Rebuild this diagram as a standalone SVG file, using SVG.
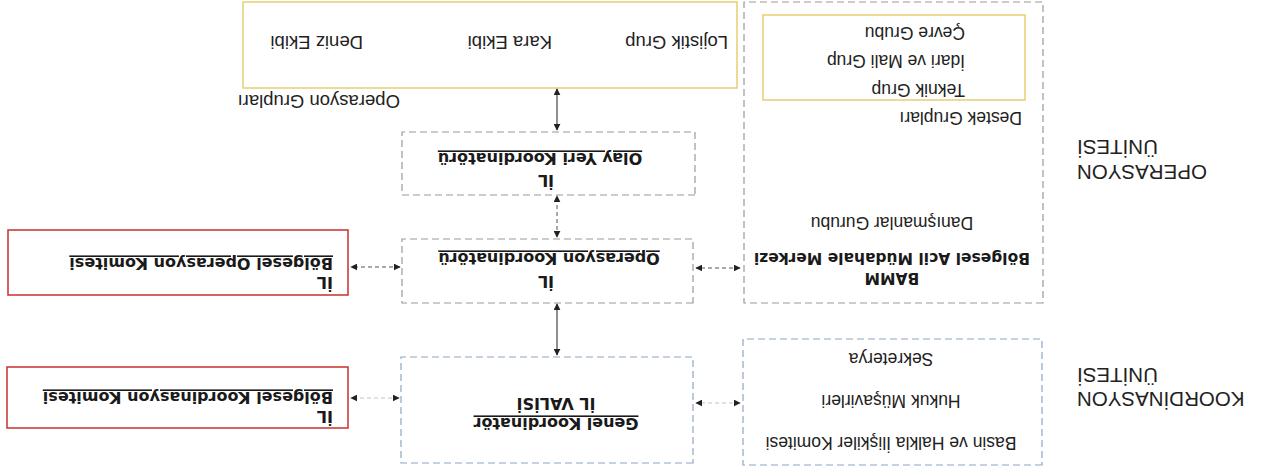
<svg xmlns="http://www.w3.org/2000/svg" width="1286" height="475" viewBox="0 0 1286 475">
<defs>
<marker id="ah" viewBox="0 0 10 10" refX="9" refY="5" markerWidth="7" markerHeight="7" orient="auto-start-reverse" markerUnits="userSpaceOnUse">
<path d="M0,0 L10,5 L0,10 z" fill="#222"/>
</marker>
<style>
.gbox{fill:#fff;stroke:#9a9a9a;stroke-width:1.2;stroke-dasharray:7 4}
.bbox{fill:#fff;stroke:#8ea6c4;stroke-width:1.2;stroke-dasharray:7 4}
.rbox{fill:#fff;stroke:#cc3b3b;stroke-width:1.6}
.ybox{fill:#fff;stroke:#e6cf72;stroke-width:1.5}
.t{font-family:"Liberation Sans",Arial,sans-serif;font-size:17.5px;fill:#222}
.tl{font-family:"Liberation Sans",Arial,sans-serif;font-size:18.5px;fill:#222}
.b{font-family:"DejaVu Sans",Verdana,sans-serif;font-weight:bold;font-size:16px;fill:#1a1a1a}
.u{text-decoration:underline}
.big{font-family:"Liberation Sans",Arial,sans-serif;font-size:20.5px;fill:#222}
.c{text-anchor:middle}
.sv{stroke:#333;stroke-width:1.1;fill:none}
.sh{stroke:#555;stroke-width:1;stroke-dasharray:4 3;fill:none}
</style>
</defs>
<rect width="1286" height="475" fill="#fff"/>
<g transform="rotate(180 643 237.5)">
<g id="unit-labels">
<text class="big" x="209" y="310" text-anchor="end">OPERASYON</text>
<text class="big" x="209" y="335" text-anchor="end">ÜNİTESİ</text>
<text class="big" x="209" y="83" text-anchor="end">KOORDİNASYON</text>
<text class="big" x="209" y="107" text-anchor="end">ÜNİTESİ</text>
</g>
<g id="bamm">
<rect class="gbox" x="243" y="172" width="299" height="301"/>
<text class="b c" x="394" y="202" style="font-size:15.5px">BAMM</text>
<text class="b c" x="394" y="222" style="font-size:15.5px">Bölgesel Acil Müdahale Merkezi</text>
<text class="t c" x="394" y="258">Danışmanlar Gurubu</text>
</g>
<g id="destek-gruplari">
<text class="t" x="264" y="363">Destek Grupları</text>
<rect class="ybox" x="261" y="375" width="262" height="85"/>
<text class="t" x="321" y="391">Teknik Grup</text>
<text class="t" x="321" y="420">İdari ve Mali Grup</text>
<text class="t" x="321" y="448">Çevre Grubu</text>
</g>
<g id="operasyon-gruplari">
<text class="tl" x="886" y="380">Operasyon Grupları</text>
<rect class="ybox" x="549" y="387" width="494" height="86"/>
<text class="tl" x="558" y="439">Lojistik Grup</text>
<text class="tl" x="734" y="439">Kara Ekibi</text>
<text class="tl" x="923" y="439">Deniz Ekibi</text>
</g>
<g id="olay-yeri">
<rect class="gbox" x="591" y="280" width="293" height="63"/>
<text class="b c" x="740" y="300">İL</text>
<text class="b c u" x="746" y="322">Olay Yeri Koordinatörü</text>
</g>
<g id="operasyon-koordinatoru">
<rect class="gbox" x="593" y="172" width="291" height="64"/>
<text class="b c" x="740" y="199">İL</text>
<text class="b c u" x="737" y="222">Operasyon Koordinatörü</text>
</g>
<g id="genel-koordinator">
<rect class="bbox" x="593" y="12" width="292" height="106"/>
<text class="b c u" x="730" y="57">Genel Koordinatör</text>
<text class="b c" x="730" y="77">İL VALİSİ</text>
</g>
<g id="bolgesel-operasyon-komitesi">
<rect class="rbox" x="938" y="180" width="340" height="65"/>
<text class="b" x="953" y="198">İL</text>
<text class="b u" x="953" y="217">Bölgesel Operasyon Komitesi</text>
</g>
<g id="bolgesel-koordinasyon-komitesi">
<rect class="rbox" x="938" y="47" width="341" height="61"/>
<text class="b" x="953" y="64">İL</text>
<text class="b u" x="953" y="83">Bölgesel Koordinasyon Komitesi</text>
</g>
<g id="basin">
<rect class="bbox" x="244" y="10" width="299" height="126"/>
<text class="t c" x="395" y="38">Basin ve Halkla İlişkiler Komitesi</text>
<text class="t c" x="395" y="80">Hukuk Müşavirleri</text>
<text class="t c" x="395" y="122">Sekreterya</text>
</g>
<g id="connectors">
<line class="sv" x1="729" y1="345" x2="729" y2="386" marker-start="url(#ah)" marker-end="url(#ah)"/>
<line class="sh" x1="729" y1="238" x2="729" y2="279" marker-start="url(#ah)" marker-end="url(#ah)"/>
<line class="sv" x1="729" y1="120" x2="729" y2="171" marker-start="url(#ah)" marker-end="url(#ah)"/>
<line class="sh" x1="886" y1="208" x2="935" y2="208" marker-start="url(#ah)" marker-end="url(#ah)"/>
<line class="sh" x1="887" y1="77" x2="935" y2="77" stroke-opacity="0.35" marker-start="url(#ah)" marker-end="url(#ah)"/>
<line class="sh" x1="546" y1="207" x2="590" y2="207" marker-start="url(#ah)" marker-end="url(#ah)"/>
<line class="sh" x1="546" y1="72" x2="590" y2="72" stroke-opacity="0.35" marker-start="url(#ah)" marker-end="url(#ah)"/>
</g>
</g>
</svg>
